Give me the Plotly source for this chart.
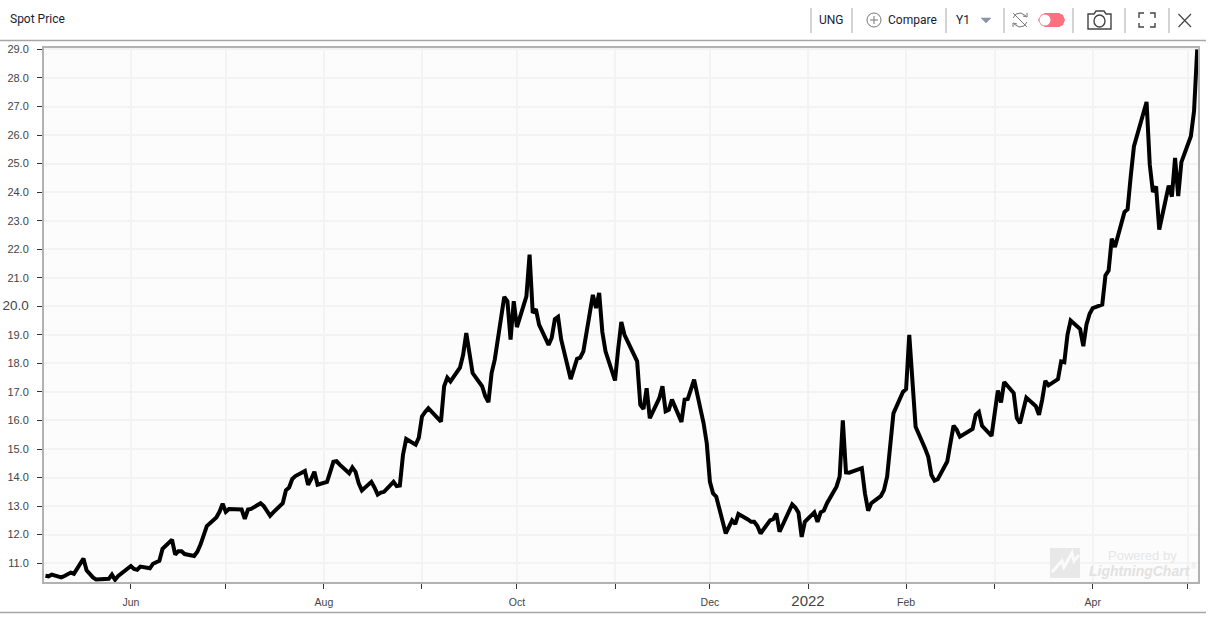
import pandas as pd
import plotly.graph_objects as go

W, H = 1212, 618
L, R, T, B = 44, 1198, 48, 582

market_holidays = ["2021-05-31", "2021-07-05", "2021-09-06", "2021-11-25",
                   "2021-12-24", "2022-01-17", "2022-02-21", "2022-04-15"]

may21 = [10.56, 10.54, 10.6, 10.5, 10.55, 10.62, 10.67, 10.63, 11.16, 10.75, 10.6, 10.5, 10.43, 10.43, 10.45, 10.6, 10.42, 10.55]
jun21 = [10.9, 10.8, 10.77, 10.88, 10.82, 10.98, 11.05, 11.08, 11.5, 11.82, 11.3, 11.42, 11.42, 11.32, 11.25, 11.4, 11.65, 12.0, 12.3, 12.6, 12.8, 13.08]
jul21 = [12.8, 12.9, 12.88, 12.55, 12.88, 12.9, 13.1, 13.0, 12.85, 12.66, 12.78, 13.1, 13.55, 13.65, 13.95, 14.05, 14.23, 13.75, 13.95, 14.2, 13.75]
aug21 = [13.85, 14.2, 14.55, 14.57, 14.45, 14.15, 14.35, 14.2, 13.8, 13.55, 13.85, 13.65, 13.4, 13.47, 13.5, 13.85, 13.7, 13.72, 14.8, 15.35, 15.15, 15.4]
sep21 = [16.14, 16.3, 16.43, 15.96, 17.2, 17.5, 17.37, 17.85, 18.3, 19.06, 18.3, 17.66, 17.2, 16.85, 16.64, 17.66, 18.13, 20.33, 20.18, 18.83, 20.18]
oct21 = [19.27, 20.35, 21.81, 19.77, 19.9, 19.36, 18.65, 18.9, 19.55, 19.63, 18.83, 17.45, 17.78, 18.16, 18.2, 18.42, 20.4, 19.94, 20.47, 19.1, 18.42]
nov21 = [17.4, 18.5, 19.45, 19.0, 18.77, 18.07, 16.55, 16.4, 17.13, 16.08, 16.78, 17.2, 16.32, 16.37, 16.73, 15.95, 16.73, 16.75, 17.43, 15.9, 15.2]
dec21 = [13.85, 13.44, 13.33, 12.04, 12.27, 12.5, 12.37, 12.72, 12.53, 12.45, 12.45, 12.3, 12.04, 12.5, 12.54, 12.74, 12.1, 13.06, 12.95, 12.77, 11.92, 12.45]
jan22 = [12.78, 12.45, 12.78, 12.84, 13.1, 13.68, 14.03, 16.0, 14.18, 14.17, 14.33, 13.44, 12.84, 13.1, 13.35, 13.56, 14.03, 15.2, 16.25, 17.0]
feb22 = [17.1, 19.0, 17.13, 15.78, 15.02, 14.73, 14.09, 13.89, 13.94, 14.56, 15.2, 15.82, 15.67, 15.43, 15.7, 16.2, 16.3, 15.81, 15.46]
mar22 = [16.26, 17.05, 16.63, 17.35, 16.96, 16.08, 15.9, 16.37, 16.8, 16.5, 16.2, 16.72, 17.39, 17.23, 17.45, 18.07, 18.04, 19.0, 19.5, 19.2, 18.6, 19.36, 19.74]
apr22 = [19.94, 20.06, 21.08, 21.25, 22.37, 22.08, 23.3, 23.4, 24.56, 25.6, 27.16, 24.97, 24.0, 24.2, 22.69, 24.23, 23.84, 25.2, 23.86, 25.05]
may22 = [25.96, 26.84, 29.0]

spot_values = may21 + jun21 + jul21 + aug21 + sep21 + oct21 + nov21 + dec21 + jan22 + feb22 + mar22 + apr22 + may22
trading_days = [d for d in pd.bdate_range("2021-05-05", "2022-05-04") if d.strftime("%Y-%m-%d") not in market_holidays]

y_ticks = list(range(11, 30))
y_labels = ['<span style="font-size:13.5px">20.0</span>' if v == 20 else f"{v}.0" for v in y_ticks]
x_ticks = ["2021-06-01", "2021-07-01", "2021-08-01", "2021-09-01", "2021-10-01", "2021-11-01",
           "2021-12-01", "2022-01-01", "2022-02-01", "2022-03-01", "2022-04-01", "2022-05-01"]
x_labels = ["Jun", "", "Aug", "", "Oct", "", "Dec", '<span style="font-size:15px">2022</span>', "Feb", "", "Apr", ""]


def px(x):
    return (x - L) / (R - L)


def py(y):
    return (B - y) / (B - T)


def line(x0, y0, x1, y1, color="#9a9a9a", width=1):
    return dict(type="line", xref="paper", yref="paper", x0=px(x0), y0=py(y0), x1=px(x1), y1=py(y1),
                line=dict(color=color, width=width), layer="above")


def path(points, color="#555", width=1.2, fill=None, close=False):
    d = "M" + " L".join(f"{px(a):.5f},{py(b):.5f}" for a, b in points) + (" Z" if close else "")
    return dict(type="path", xref="paper", yref="paper", path=d, line=dict(color=color, width=width),
                fillcolor=fill or "rgba(0,0,0,0)", layer="above")


def oval(x0, y0, x1, y1, color="#777", width=1, fill=None):
    return dict(type="circle", xref="paper", yref="paper", x0=px(x0), y0=py(y0), x1=px(x1), y1=py(y1),
                line=dict(color=color, width=width), fillcolor=fill or "rgba(0,0,0,0)", layer="above")


def label(x, y, text, size=12, color="#1b1b33", anchor="left", family="Roboto", **kw):
    return dict(xref="paper", yref="paper", x=px(x), y=py(y), text=text, showarrow=False, xanchor=anchor,
                yanchor="middle", font=dict(size=size, color=color, family=family), borderpad=0, borderwidth=0, **kw)


fig = go.Figure(go.Scatter(x=trading_days, y=spot_values, mode="lines",
                           line=dict(color="#000000", width=4, shape="linear"), hoverinfo="skip"))

shapes = [
    dict(type="line", xref="x", yref="paper", x0="2022-01-01", x1="2022-01-01", y0=0, y1=1,
         line=dict(color="#cfcfcf", width=2), layer="below"),
    dict(type="line", xref="paper", yref="y", x0=0, x1=1, y0=20, y1=20,
         line=dict(color="#c4c4c4", width=1.5), layer="below"),
    line(0, 40.5, 1206, 40.5, "#a6a6a6", 1.5),
    line(0, 612.5, 1206, 612.5, "#a6a6a6", 1.5),
]
for sx in [811, 852, 946, 1004, 1073, 1125, 1169]:
    shapes.append(line(sx, 8, sx, 33, "#a8a8a8", 1))
# Compare icon
shapes += [oval(867, 13, 881, 27), line(870, 20, 878, 20, "#777", 1), line(874, 16, 874, 24, "#777", 1)]
# dropdown triangle
shapes.append(path([(981, 18), (991, 18), (986, 23)], "#8d93a8", 0.5, "#8d93a8", True))
# sync icon
shapes += [
    path([(1013, 18), (1016, 14), (1021, 13), (1026, 16)], "#777", 1),
    path([(1027, 22), (1024, 26), (1019, 27), (1014, 24)], "#777", 1),
    path([(1023, 16), (1027, 17), (1027, 13)], "#777", 1),
    path([(1017, 24), (1013, 23), (1013, 27)], "#777", 1),
    line(1013, 13, 1027, 27, "#777", 1),
]
# toggle
shapes += [
    dict(type="path", xref="paper", yref="paper", layer="above", fillcolor="#ff6f82", line=dict(color="#ff6f82", width=0),
         path="M" + " L".join(f"{px(a):.5f},{py(b):.5f}" for a, b in
                              [(1045, 13), (1059, 13), (1063, 15), (1065, 20), (1063, 25), (1059, 27), (1045, 27), (1041, 25), (1038, 20), (1041, 15)]) + " Z"),
    oval(1039.5, 14.5, 1050.5, 25.5, "#ffffff", 0, "#ffffff"),
]
# camera
shapes += [
    path([(1088, 14), (1094, 14), (1096, 11), (1104, 11), (1106, 14), (1111, 14), (1111, 29), (1088, 29)], "#444", 1.4, None, True),
    oval(1094, 15, 1105, 27, "#444", 1.4),
]
# fullscreen
for pts in [[(1139, 18), (1139, 13), (1144, 13)], [(1150, 13), (1155, 13), (1155, 18)],
            [(1139, 23), (1139, 27), (1144, 27)], [(1150, 27), (1155, 27), (1155, 23)]]:
    shapes.append(path(pts, "#444", 1.4))
# close
shapes += [line(1178.5, 14, 1191, 27, "#444", 1.2), line(1191, 14, 1178.5, 27, "#444", 1.2)]
# watermark logo
shapes += [
    dict(type="rect", xref="paper", yref="paper", x0=px(1050), x1=px(1080), y0=py(578), y1=py(548),
         fillcolor="#e8e8e8", line=dict(width=0), layer="above"),
    path([(1052, 572), (1062, 561), (1064, 567), (1072, 553), (1074, 561), (1079, 555)], "#fafafa", 3),
]

annotations = [
    label(10, 19.5, "Spot Price", 12),
    label(831, 20, "UNG", 12, anchor="center"),
    label(888, 20, "Compare", 12),
    label(963, 20, "Y1", 12, anchor="center"),
    label(1142, 555, "Powered by", 13, "#e6e6e6", anchor="center", family="Liberation Sans"),
    label(1140, 571, "<b><i>LightningChart</i></b>", 14, "#e2e2e2", anchor="center", family="Liberation Sans"),
    label(1194, 566, "®", 7, "#e2e2e2", anchor="center", family="Liberation Sans"),
]

fig.update_layout(
    width=W, height=H, autosize=False,
    margin=dict(l=L, r=W - R, t=T, b=H - B, pad=0),
    paper_bgcolor="#ffffff", plot_bgcolor="#fcfcfc", showlegend=False,
    shapes=shapes, annotations=annotations,
    font=dict(family="Liberation Sans", size=11, color="#333333"),
    xaxis=dict(type="date", automargin=False, range=["2021-05-04 13:00", "2022-05-04 06:00"], tickmode="array", tickvals=x_ticks, ticktext=x_labels,
               ticks="outside", ticklen=5, tickwidth=1, tickcolor="#333333", ticklabelstandoff=4, showgrid=True,
               gridcolor="#f3f3f3", gridwidth=1.5, showline=True, linecolor="#b2b2b2", linewidth=2, mirror=True, zeroline=False,
               tickangle=0, tickfont=dict(size=10.5, color="#444444")),
    yaxis=dict(automargin=False, range=[10.34, 29.05], tickmode="array", tickvals=y_ticks, ticktext=y_labels, ticks="outside",
               ticklen=5, tickwidth=1, tickcolor="#333333", ticklabelstandoff=6, showgrid=True, gridcolor="#f3f3f3",
               gridwidth=1.5, showline=True, linecolor="#b2b2b2", linewidth=2, mirror=True, zeroline=False,
               tickfont=dict(size=11, color="#444444")),
)

fig.write_html("out.html", config=dict(displayModeBar=False, responsive=False),
               post_script="document.body.style.margin='0';document.documentElement.style.overflow='hidden';")
